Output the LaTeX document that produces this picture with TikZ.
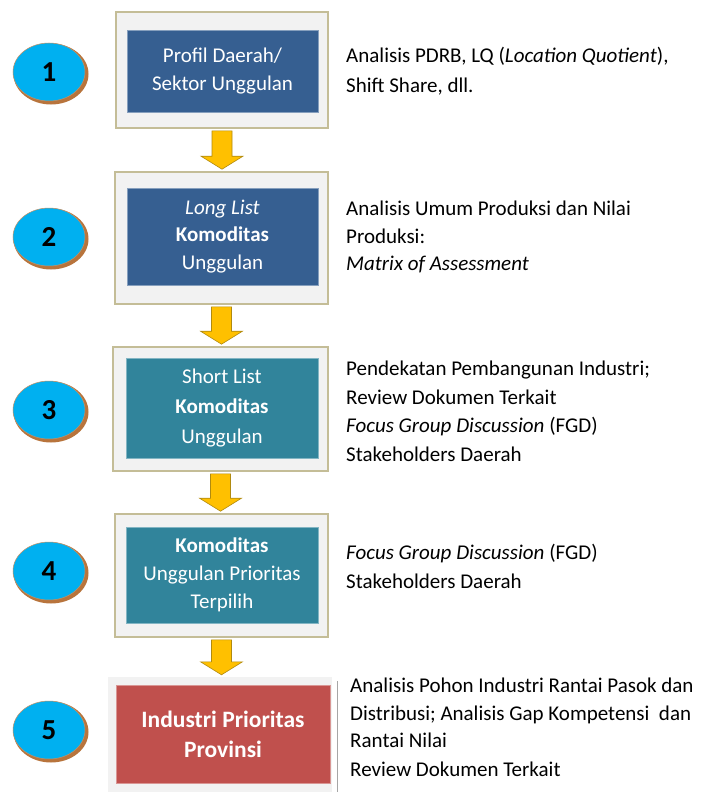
\documentclass[tikz,border=0pt]{standalone}
\usepackage{fontspec}
\setmainfont{Carlito}
\usetikzlibrary{calc,shapes.geometric}
\definecolor{outerfill}{HTML}{F2F2F2}
\definecolor{outerline}{HTML}{C4BD97}
\definecolor{darkblue}{HTML}{365F91}
\definecolor{tealc}{HTML}{31849B}
\definecolor{redc}{HTML}{C0504D}
\definecolor{cyanc}{HTML}{00B0F0}
\definecolor{brownc}{HTML}{B8743C}
\definecolor{arrfill}{HTML}{FFC000}
\definecolor{arrline}{HTML}{B08A10}
\tikzset{
  outerbox/.style={draw=outerline, line width=1.6pt, fill=outerfill, inner sep=0pt},
  innerbox/.style={draw=#1!60!white, line width=0.6pt, fill=#1, text=white, align=center,
     font=\fontsize{21}{28}\selectfont, inner sep=0pt},
  numshadow/.style={ellipse, fill=brownc, minimum width=75pt, minimum height=61pt, inner sep=0pt},
  numell/.style={ellipse, fill=cyanc, draw=brownc!80!white, line width=0.5pt,
     minimum width=72pt, minimum height=58pt, inner sep=0pt, font=\fontsize{29}{29}\selectfont\bfseries},
  desc/.style={anchor=north west, align=left, inner sep=0pt},
  yarrow/.style={fill=arrfill, draw=arrline, line width=0.6pt, line join=miter}
}
\newcommand{\yarr}[2]{%
  \path[yarrow] let \p1=(#1.south), \p2=(#2.north) in
    (\x1-10pt,\y1-2pt) -- (\x1+10pt,\y1-2pt) -- (\x1+10pt,\y2+15pt) -- (\x1+21pt,\y2+15pt)
    -- (\x1,\y2+2pt) -- (\x1-21pt,\y2+15pt) -- (\x1-10pt,\y2+15pt) -- cycle;}
\begin{document}
\begin{tikzpicture}[x=1pt,y=-1pt]
\useasboundingbox[fill=white] (0,0) rectangle (704,792);
% outer boxes
\node[outerbox, minimum width=212pt, minimum height=116pt] (o1) at (222,70) {};
\node[outerbox, minimum width=213pt, minimum height=132pt] (o2) at (221.5,238) {};
\node[outerbox, minimum width=215pt, minimum height=124pt] (o3) at (220.5,409) {};
\node[outerbox, minimum width=213pt, minimum height=123pt] (o4) at (221.5,575.5) {};
\node[fill=outerfill, inner sep=0pt, minimum width=224pt, minimum height=116pt] (o5) at (220,735) {};
\draw[gray!70, line width=1pt] (337,681) -- (337,792);
% inner boxes
\node[innerbox=darkblue, minimum width=191pt, minimum height=82pt] (b1) at (222.5,71)
  {Profil Daerah/\\Sektor Unggulan};
\node[innerbox=darkblue, minimum width=191pt, minimum height=97pt, font=\fontsize{21}{27.5}\selectfont] (b2) at (222.5,236.5)
  {\itshape Long List\\\bfseries Komoditas\\Unggulan};
\node[innerbox=tealc, minimum width=192pt, minimum height=100pt, font=\fontsize{21}{30}\selectfont] (b3) at (222,408)
  {Short List\\\bfseries Komoditas\\Unggulan};
\node[innerbox=tealc, minimum width=192pt, minimum height=96pt] (b4) at (222,575)
  {\bfseries Komoditas\\Unggulan Prioritas\\Terpilih};
\node[innerbox=redc, minimum width=214pt, minimum height=98pt, font=\fontsize{23.5}{30}\selectfont\bfseries] (b5) at (223,734)
  {Industri Prioritas\\Provinsi};
% arrows
\yarr{o1}{o2}
\yarr{o2}{o3}
\yarr{o3}{o4}
\yarr{o4}{o5}
% number ellipses
\foreach \n/\yy in {1/72,2/237,3/410,4/571,5/730}{
  \node[numshadow] (s\n) at (51,\yy+2) {};
  \node[numell] (c\n) at (49,\yy) {\n};
}
% descriptions
\node[desc, font=\fontsize{21}{30}\selectfont] (d1) at (346,47) {Analisis PDRB, LQ (\textit{Location Quotient}),\\Shift Share, dll.};
\node[desc, font=\fontsize{21}{27.5}\selectfont] (d2) at (346,201) {Analisis Umum Produksi dan Nilai\\Produksi:\\\textit{Matrix of Assessment}};
\node[desc, font=\fontsize{21}{28.5}\selectfont] (d3) at (346,361) {Pendekatan Pembangunan Industri;\\Review Dokumen Terkait\\\textit{Focus Group Discussion} (FGD)\\Stakeholders Daerah};
\node[desc, font=\fontsize{21}{29}\selectfont] (d4) at (346,544) {\textit{Focus Group Discussion} (FGD)\\Stakeholders Daerah};
\node[desc, font=\fontsize{21}{27.5}\selectfont] (d5) at (350,678) {Analisis Pohon Industri Rantai Pasok dan\\Distribusi; Analisis Gap Kompetensi~ dan\\Rantai Nilai\\[1.5pt]Review Dokumen Terkait};
\end{tikzpicture}
\end{document}
